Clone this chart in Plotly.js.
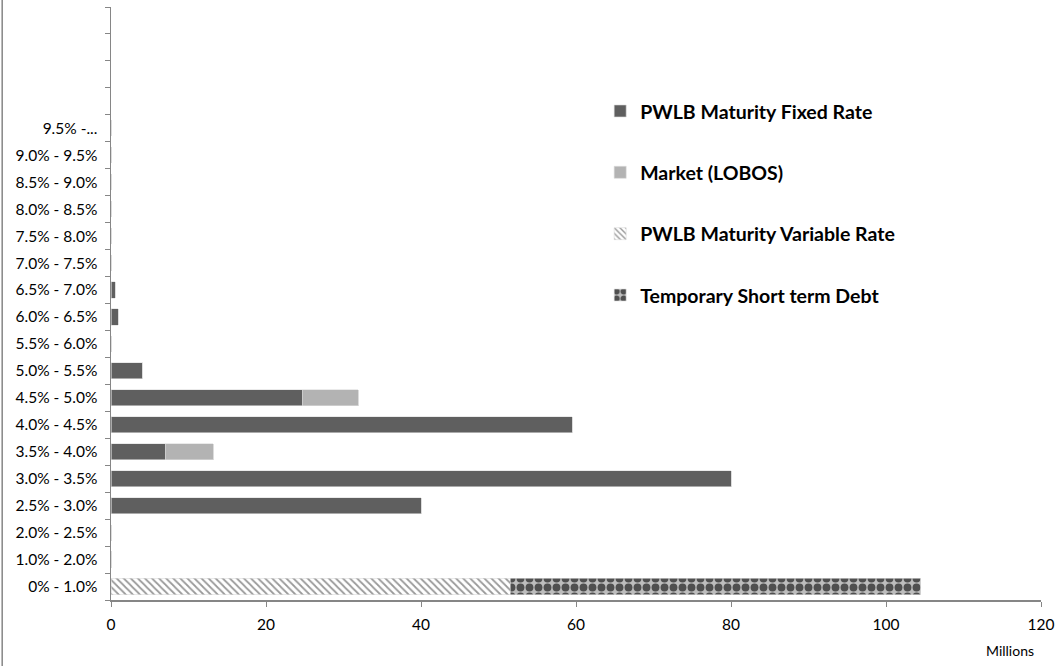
<!DOCTYPE html>
<html>
<head>
<meta charset="utf-8">
<script src="https://cdn.plot.ly/plotly-3.0.1.min.js"></script>
<style>html,body{margin:0;padding:0;background:#fff;}#chart{width:1058px;height:666px;}</style>
</head>
<body>
<div id="chart"></div>
<script>
// Interest rate bands (bottom to top); last four are empty spare rows
var categories = ["0% - 1.0%", "1.0% - 2.0%", "2.0% - 2.5%", "2.5% - 3.0%", "3.0% - 3.5%", "3.5% - 4.0%",
  "4.0% - 4.5%", "4.5% - 5.0%", "5.0% - 5.5%", "5.5% - 6.0%", "6.0% - 6.5%", "6.5% - 7.0%",
  "7.0% - 7.5%", "7.5% - 8.0%", "8.0% - 8.5%", "8.5% - 9.0%", "9.0% - 9.5%", "9.5% -...",
  " ", "  ", "   ", "    "];
var fixedRate   = [0, 0, 0, 40, 80, 7.0, 59.5, 24.7, 4.1, 0, 0.95, 0.55, 0, 0, 0, 0, 0, 0, null, null, null, null];
var marketLobos = [0, 0, 0, 0, 0, 6.2, 0, 7.2, 0, 0, 0, 0, 0, 0, 0, 0, 0, 0, null, null, null, null];
var variableRate= [51.5, 0, 0, 0, 0, 0, 0, 0, 0, 0, 0, 0, 0, 0, 0, 0, 0, 0, null, null, null, null];
var temporary   = [53.0, 0, 0, 0, 0, 0, 0, 0, 0, 0, 0, 0, 0, 0, 0, 0, 0, 0, null, null, null, null];
var seriesNames = ["PWLB Maturity Fixed Rate", "Market (LOBOS)", "PWLB Maturity Variable Rate", "Temporary Short term Debt"];
var xTicks = [0, 20, 40, 60, 80, 100, 120];

var font = "Lato, 'Liberation Sans', sans-serif";
var outline = {color: "#dcdcdc", width: 0.6};

var traces = [
  {type: "bar", orientation: "h", name: seriesNames[0], y: categories, x: fixedRate, legendgroup: "a",
   marker: {color: "#5f5f5f", line: outline}},
  {type: "bar", orientation: "h", name: seriesNames[1], y: categories, x: marketLobos, legendgroup: "b",
   marker: {color: "#b3b3b3", line: outline}},
  {type: "bar", orientation: "h", name: seriesNames[2], y: categories, x: variableRate, legendgroup: "c",
   marker: {color: "#ffffff", line: outline, pattern: {shape: "\\", fgcolor: "#999999", bgcolor: "#ffffff", size: 5, solidity: 0.35, fillmode: "replace"}}},
  {type: "bar", orientation: "h", name: seriesNames[3], y: categories, x: temporary, legendgroup: "d",
   marker: {color: "#9a9a9a", line: outline, pattern: {shape: ".", fgcolor: "#4f4f4f", bgcolor: "#bdbdbd", size: 9, solidity: 0.6, fillmode: "replace"}}}
];

var layout = {
  width: 1058, height: 666,
  margin: {l: 111, r: 17, t: 7, b: 66, pad: 0},
  paper_bgcolor: "#ffffff", plot_bgcolor: "#ffffff",
  barmode: "stack", bargap: 0.4,
  font: {family: font, size: 15, color: "#000"},
  showlegend: true,
  legend: {x: 0.526, y: 0.857, xanchor: "left", yanchor: "top", traceorder: "grouped", tracegroupgap: 33,
           font: {family: font, size: 19.5, color: "#000", weight: "bold"}, itemwidth: 30, bgcolor: "rgba(0,0,0,0)"},
  xaxis: {range: [0, 120], tickvals: xTicks, ticktext: xTicks.map(String), showgrid: false, zeroline: false,
          showline: true, linecolor: "#868686", linewidth: 1.5, ticks: "outside", ticklen: 5, tickcolor: "#868686",
          ticklabelstandoff: 5, tickfont: {family: font, size: 15.5, color: "#000"}, fixedrange: true},
  yaxis: {type: "category", categoryorder: "array", categoryarray: categories, showgrid: false, zeroline: false,
          showline: true, linecolor: "#868686", linewidth: 1.5, ticks: "outside", ticklen: 5, tickcolor: "#868686",
          tickson: "boundaries", ticklabelstandoff: 9, tickfont: {family: font, size: 15.5, color: "#000"},
          range: [-0.5, categories.length - 0.5], fixedrange: true},
  shapes: [{type: "line", xref: "paper", yref: "paper", x0: -0.117, x1: -0.117, y0: -0.12, y1: 1.02,
            line: {color: "#868686", width: 1.5}}],
  annotations: [{text: "Millions", xref: "paper", yref: "paper", x: 0.995, y: -0.085, xanchor: "right", yanchor: "middle",
                 showarrow: false, font: {family: font, size: 14, color: "#000"}}]
};

Plotly.newPlot("chart", traces, layout, {staticPlot: true, displayModeBar: false});
</script>
</body>
</html>
